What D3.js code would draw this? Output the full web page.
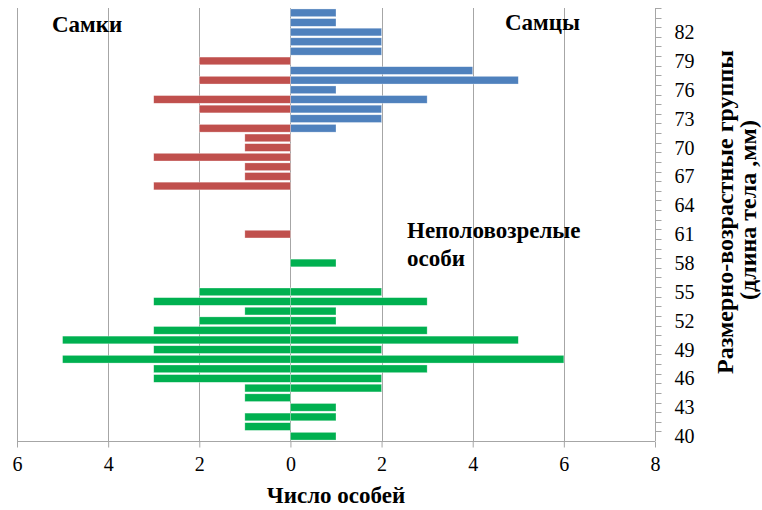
<!DOCTYPE html>
<meta charset="utf-8">
<style>
body { margin: 0; background: #fff; }
</style>
<svg width="762" height="510"></svg>
<script src="https://d3js.org/d3.v7.min.js"></script>
<script>

// size groups, mm (bottom to top)
var sizes = [40, 41, 42, 43, 44, 45, 46, 47, 48, 49, 50, 51, 52, 53, 54, 55, 56, 57, 58, 59, 60,
             61, 62, 63, 64, 65, 66, 67, 68, 69, 70, 71, 72, 73, 74, 75, 76, 77, 78, 79, 80, 81, 82, 83, 84];

// [size, count]
var males = [[72, 1], [73, 2], [74, 2], [75, 3], [76, 1], [77, 5], [78, 4],
             [80, 2], [81, 2], [82, 2], [83, 1], [84, 1]];
var females = [[61, 1], [66, 3], [67, 1], [68, 1], [69, 3], [70, 1], [71, 1],
               [72, 2], [74, 2], [75, 3], [77, 2], [79, 2]];
var juvLeft = [[41, 1], [42, 1], [44, 1], [45, 1], [46, 3], [47, 3], [48, 5], [49, 3],
               [50, 5], [51, 3], [52, 2], [53, 1], [54, 3], [55, 2]];
var juvRight = [[40, 1], [42, 1], [43, 1], [45, 2], [46, 2], [47, 3], [48, 6], [49, 2],
                [50, 5], [51, 3], [52, 1], [53, 1], [54, 3], [55, 2], [58, 1]];

var xTicks = [-6, -4, -2, 0, 2, 4, 6, 8];
var yLabels = [40, 43, 46, 49, 52, 55, 58, 61, 64, 67, 70, 73, 76, 79, 82];

var serif = "'Liberation Serif'";

var svg = d3.select("svg"),
    m = {left: 17, right: 655, top: 8, bottom: 441};

var x = d3.scaleLinear().domain([-6, 8]).range([m.left, m.right]);
var y = d3.scaleBand().domain(sizes.slice().reverse()).range([m.top, m.bottom]).paddingInner(0.2).paddingOuter(0.1);

// gridlines
svg.append("g").selectAll("line")
  .data(xTicks.slice(0, -1))
  .enter().append("line")
    .attr("x1", function(d) { return Math.round(x(d)) + 0.5; })
    .attr("x2", function(d) { return Math.round(x(d)) + 0.5; })
    .attr("y1", m.top)
    .attr("y2", m.bottom)
    .attr("stroke", "#a6a6a6")
    .attr("stroke-width", 1);

// bars
function bars(data, side, color) {
  svg.append("g").selectAll("rect")
    .data(data)
    .enter().append("rect")
      .attr("x", function(d) { return side < 0 ? x(-d[1]) : x(0); })
      .attr("width", function(d) { return x(d[1]) - x(0); })
      .attr("y", function(d) { return y(d[0]); })
      .attr("height", y.bandwidth())
      .attr("fill", color)
      .attr("stroke", "rgba(255,255,255,0.5)")
      .attr("stroke-width", 0.6);
}
bars(males, 1, "#4f81bd");
bars(females, -1, "#c0504d");
bars(juvLeft, -1, "#00b050");
bars(juvRight, 1, "#00b050");

// x axis
var xAxis = svg.append("g")
    .attr("transform", "translate(0," + (m.bottom + 0.5) + ")")
    .call(d3.axisBottom(x).tickValues(xTicks).tickSize(6).tickPadding(9)
      .tickFormat(function(d) { return Math.abs(d); }));
xAxis.select(".domain").attr("stroke", "#a6a6a6").attr("d", "M" + m.left + ",0H" + m.right);
xAxis.selectAll(".tick line").attr("stroke", "#a6a6a6");
xAxis.selectAll(".tick text")
    .attr("fill", "#000")
    .style("font-family", serif)
    .style("font-size", "20px");

// y axis on the right (ticks between groups, labels every third group)
var yAxis = svg.append("g").attr("transform", "translate(" + (m.right + 0.5) + ",0)");
yAxis.append("line")
    .attr("y1", m.top).attr("y2", m.bottom)
    .attr("stroke", "#a6a6a6");
var step = y.step();
yAxis.selectAll(".minor")
  .data(sizes)
  .enter().append("line")
    .attr("class", "minor")
    .attr("x1", 0).attr("x2", 6)
    .attr("y1", function(d) { return Math.round(y(d) - step * y.paddingInner() / 2) + 0.5; })
    .attr("y2", function(d) { return Math.round(y(d) - step * y.paddingInner() / 2) + 0.5; })
    .attr("stroke", "#a6a6a6");
yAxis.selectAll(".lbl")
  .data(yLabels)
  .enter().append("text")
    .attr("class", "lbl")
    .attr("x", 19)
    .attr("y", function(d) { return y(d) + y.bandwidth() / 2; })
    .attr("dy", "0.35em")
    .style("font-family", serif)
    .style("font-size", "20px")
    .text(function(d) { return d; });

// titles
function title(t, size) {
  return svg.append("text")
      .style("font-family", serif)
      .style("font-weight", "bold")
      .style("font-size", size + "px")
      .text(t);
}

title("Число особей", 23).attr("x", 336).attr("y", 503).attr("text-anchor", "middle");
title("Размерно-возрастные группы", 24).attr("text-anchor", "middle")
    .attr("transform", "translate(733,212) rotate(-90)");
title("(длина тела ,мм)", 24).attr("text-anchor", "middle")
    .attr("transform", "translate(756,210) rotate(-90)");
title("Самки", 23).attr("x", 52).attr("y", 32);
title("Самцы", 23).attr("x", 505).attr("y", 30);
title("Неполовозрелые", 23).attr("x", 407).attr("y", 238);
title("особи", 23).attr("x", 407).attr("y", 266);

</script>
